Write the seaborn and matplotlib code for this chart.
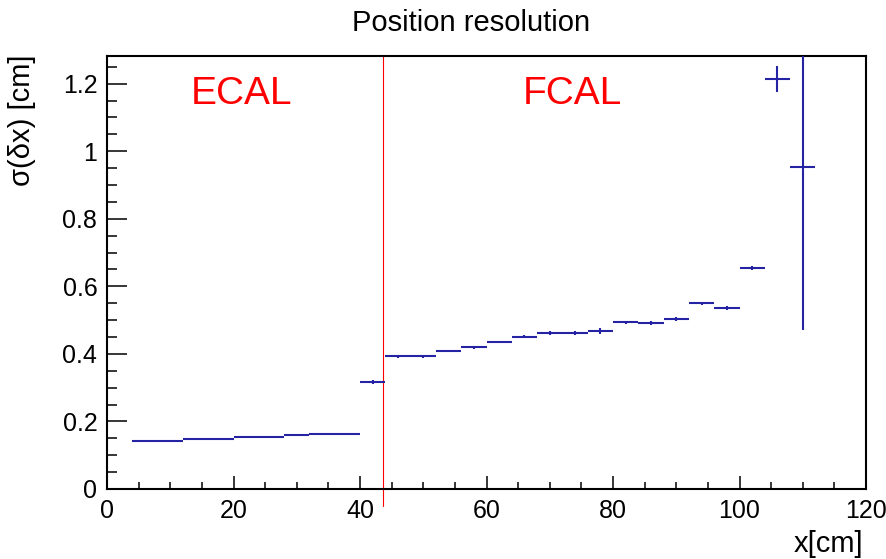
import numpy as np
import pandas as pd
import matplotlib
matplotlib.use("Agg")
import matplotlib.pyplot as plt
from matplotlib.ticker import MultipleLocator, FuncFormatter
import seaborn as sns

# --- data (4 cm bins) ---
bin_centers = [6, 10, 14, 18, 22, 26, 30, 34, 38, 42, 46, 50, 54, 58, 62, 66,
               70, 74, 78, 82, 86, 90, 94, 98, 102, 106, 110]
sigma = [0.142, 0.142, 0.147, 0.147, 0.154, 0.154, 0.159, 0.164, 0.164, 0.317,
         0.393, 0.393, 0.409, 0.419, 0.435, 0.451, 0.462, 0.462, 0.467, 0.493,
         0.492, 0.503, 0.550, 0.535, 0.654, 1.213, 0.953]
sigma_err = [0.002, 0.002, 0.003, 0.003, 0.003, 0.003, 0.003, 0.003, 0.003, 0.005,
             0.004, 0.004, 0.004, 0.004, 0.004, 0.005, 0.005, 0.005, 0.009, 0.004,
             0.005, 0.005, 0.004, 0.006, 0.007, 0.039, 0.483]
bin_half_width = 2.0
boundary_x = 43.7
x_ticks = [0, 20, 40, 60, 80, 100, 120]
y_ticks = [0, 0.2, 0.4, 0.6, 0.8, 1.0, 1.2]

df = pd.DataFrame({"x": bin_centers, "sigma": sigma, "err": sigma_err})

sns.set_theme(style="ticks")
plt.rcParams["font.family"] = ["Liberation Sans", "DejaVu Sans"]
plt.rcParams["text.color"] = "black"

fig = plt.figure(figsize=(8.86, 5.59), dpi=100)
ax = fig.add_axes([107 / 886, 70 / 559, 759 / 886, 433 / 559])

line_col = "#2323a3"
ax.errorbar(df["x"], df["sigma"], xerr=bin_half_width, yerr=df["err"],
            fmt="none", ecolor=line_col, elinewidth=1.5, capsize=0, zorder=3)

# ECAL / FCAL boundary
ax.plot([boundary_x, boundary_x], [-0.05, 1.282], color="#ff0000", lw=0.8,
        clip_on=False, zorder=2)

ax.text(21.2, 1.139, "ECAL", color="red", fontsize=28, ha="center", va="baseline")
ax.text(73.5, 1.139, "FCAL", color="red", fontsize=28, ha="center", va="baseline")

ax.set_xlim(0, 120)
ax.set_ylim(0, 1.282)
ax.set_xticks(x_ticks)
ax.set_yticks(y_ticks)
ax.xaxis.set_minor_locator(MultipleLocator(5))
ax.yaxis.set_minor_locator(MultipleLocator(0.05))
ax.yaxis.set_major_formatter(FuncFormatter(lambda v, p: f"{v:g}"))

for s in ax.spines.values():
    s.set_color("black")
    s.set_linewidth(1.5)
ax.tick_params(axis="both", which="both", direction="in", colors="black",
               labelcolor="black", labelsize=18, width=1.1)
ax.tick_params(axis="x", which="major", length=9.5, pad=7)
ax.tick_params(axis="x", which="minor", length=5)
ax.tick_params(axis="y", which="major", length=14.5, pad=7)
ax.tick_params(axis="y", which="minor", length=7.2)

fig.text(471.5 / 886, 1 - 31 / 559, "Position resolution", fontsize=21,
         color="black", ha="center", va="baseline")
fig.text(863 / 886, 1 - 552 / 559, "x[cm]", fontsize=21, color="black",
         ha="right", va="baseline")
fig.text(22 / 886, 1 - 55 / 559, "σ(δx) [cm]", fontsize=21, color="black",
         rotation=90, ha="center", va="top")

fig.savefig("out.png", dpi=100)
